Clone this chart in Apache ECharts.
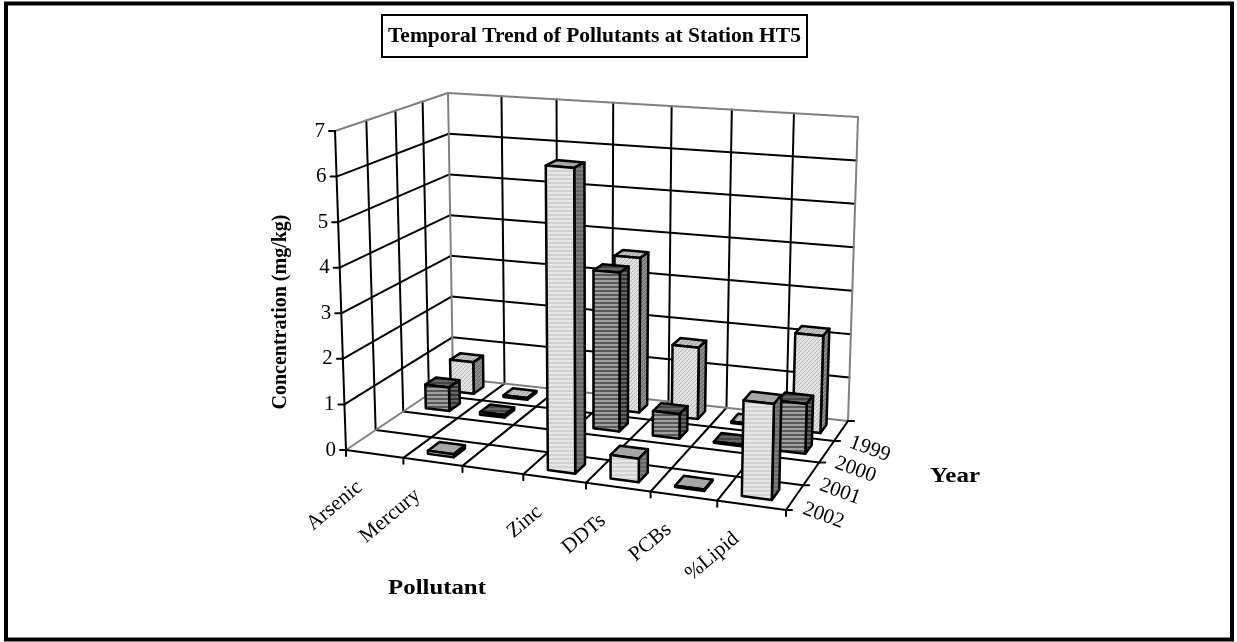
<!DOCTYPE html>
<html>
<head>
<meta charset="utf-8">
<style>
  html, body {margin: 0; padding: 0; background: #fff;}
  #main {width: 1237px; height: 642px;}
</style>
<script src="https://cdn.jsdelivr.net/npm/echarts@6/dist/echarts.min.js"></script>
</head>
<body>
<div id="main"></div>
<script>
  const pollutants = ['Arsenic', 'Mercury', '', 'Zinc', 'DDTs', 'PCBs', '%Lipid'];
  const years = ['2002', '2001', '2000', '1999'];
  const valueTicks = [0, 1, 2, 3, 4, 5, 6, 7];

  // null: no bar drawn
  const values1999 = [0.75, 0.04, null, 3.6, 1.65, 0.03, 2.2];
  const values2000 = [0.55, 0.06, null, 3.6, 0.55, 0.03, 1.1];
  const values2001 = [null, null, null, null, null, null, null];
  const values2002 = [null, 0.07, null, 6.55, 0.5, 0.03, 2.0];

  const serif = '"Liberation Serif", "Times New Roman", serif';

  // floor and ceiling corners of the plot box, used only for the projection
  const floorQuad = [[346, 450], [786, 510], [848, 421], [453, 378]];
  const topQuad = [[335, 131], [794, 170], [858, 117], [448, 93]];
  const xPersp = 0.9, zPersp = 1.15;

  function warp(t, w) {
    return t * w / (1 + t * (w - 1));
  }
  function quadAt(q, u, v) {
    const a = [q[0][0] + (q[1][0] - q[0][0]) * u, q[0][1] + (q[1][1] - q[0][1]) * u];
    const b = [q[3][0] + (q[2][0] - q[3][0]) * u, q[3][1] + (q[2][1] - q[3][1]) * u];
    return [a[0] + (b[0] - a[0]) * v, a[1] + (b[1] - a[1]) * v];
  }

  // x: pollutant slot, z: year slot (0 is the front), y: concentration
  function project(x, z, y) {
    const u = warp(x / pollutants.length, xPersp);
    const v = warp(z / years.length, zPersp);
    const a = quadAt(floorQuad, u, v);
    const b = quadAt(topQuad, u, v);
    const t = y / 7;
    return [a[0] + (b[0] - a[0]) * t, a[1] + (b[1] - a[1]) * t];
  }

  function makePattern(size, draw) {
    const c = document.createElement('canvas');
    c.width = size;
    c.height = size;
    draw(c.getContext('2d'));
    return {image: c, repeat: 'repeat'};
  }
  function stripes(base, line) {
    return makePattern(4, function (ctx) {
      ctx.fillStyle = base;
      ctx.fillRect(0, 0, 4, 4);
      ctx.fillStyle = line;
      ctx.fillRect(0, 2, 4, 2);
    });
  }
  function hatch(base, line) {
    return makePattern(4, function (ctx) {
      ctx.fillStyle = base;
      ctx.fillRect(0, 0, 4, 4);
      ctx.fillStyle = line;
      for (let i = 0; i < 4; i++) ctx.fillRect(i, 3 - i, 1, 1);
    });
  }

  const styles = {
    1999: {front: hatch('#e2e2e2', '#b8b8b8'), side: hatch('#8c8c8c', '#666'), top: hatch('#c4c4c4', '#a0a0a0')},
    2000: {front: stripes('#a0a0a0', '#585858'), side: stripes('#666', '#333'), top: stripes('#666', '#444')},
    2001: {front: '#ccc', side: '#777', top: '#aaa'},
    2002: {front: stripes('#e6e6e6', '#d2d2d2'), side: stripes('#7c7c7c', '#666'), top: '#a6a6a6'}
  };

  function poly(api, pts, fill, lineW) {
    return {
      type: 'polygon',
      shape: {points: pts.map(function (p) { return api.coord(p); })},
      style: {fill: fill, stroke: '#000', lineWidth: lineW, lineJoin: 'round'}
    };
  }

  function line(api, a, b, color, lineW) {
    const p = api.coord(a), q = api.coord(b);
    return {
      type: 'line',
      shape: {x1: p[0], y1: p[1], x2: q[0], y2: q[1]},
      style: {stroke: color, lineWidth: lineW, lineCap: 'round'}
    };
  }

  function text(api, pos, str, rotateDeg, font, align, vAlign, stretch) {
    const p = api.coord(pos);
    return {
      type: 'text',
      x: p[0],
      y: p[1],
      scaleX: stretch || 1,
      rotation: rotateDeg * Math.PI / 180,
      style: {text: str, font: font, fill: '#000', align: align, verticalAlign: vAlign}
    };
  }

  // walls, floor, ticks and tick labels
  function renderFrame(params, api) {
    const nx = pollutants.length, nz = years.length;
    const black = '#000', gray = '#808080';
    const kids = [];
    valueTicks.forEach(function (v) {
      if (v > 0 && v < 7) {
        kids.push(line(api, project(0, 0, v), project(0, nz, v), black, 2));
        kids.push(line(api, project(0, nz, v), project(nx, nz, v), black, 2));
      }
    });
    for (let i = 1; i < nz; i++) {
      kids.push(line(api, project(0, i, 0), project(0, i, 7), black, 2));
      kids.push(line(api, project(0, i, 0), project(nx, i, 0), black, 2));
    }
    for (let i = 1; i < nx; i++) {
      kids.push(line(api, project(i, nz, 0), project(i, nz, 7), black, 2));
      kids.push(line(api, project(i, 0, 0), project(i, nz, 0), black, 2));
    }
    kids.push(line(api, project(0, 0, 7), project(0, nz, 7), gray, 2));
    kids.push(line(api, project(0, nz, 7), project(nx, nz, 7), gray, 2));
    kids.push(line(api, project(0, nz, 0), project(0, nz, 7), gray, 2));
    kids.push(line(api, project(nx, nz, 0), project(nx, nz, 7), gray, 2));
    kids.push(line(api, project(0, 0, 0), project(0, nz, 0), gray, 2));
    kids.push(line(api, project(0, nz, 0), project(nx, nz, 0), gray, 2));
    kids.push(line(api, project(0, 0, 0), project(0, 0, 7), black, 2));
    kids.push(line(api, project(0, 0, 0), project(nx, 0, 0), black, 2));
    kids.push(line(api, project(nx, 0, 0), project(nx, nz, 0), black, 2));

    valueTicks.forEach(function (v) {
      const p = project(0, 0, v);
      kids.push(line(api, p, [p[0] - 6, p[1]], black, 2));
      kids.push(text(api, [p[0] - 10, p[1]], String(v), 0, '21px ' + serif, 'right', 'middle'));
    });
    for (let i = 0; i <= nx; i++) {
      const p = project(i, 0, 0);
      kids.push(line(api, p, [p[0], p[1] + 6], black, 2));
    }
    for (let i = 0; i <= nz; i++) {
      const p = project(nx, i, 0);
      kids.push(line(api, p, [p[0] + 6, p[1]], black, 2));
    }
    pollutants.forEach(function (name, i) {
      const p = project(i + 0.5, 0, 0);
      kids.push(text(api, [p[0] - 15, p[1] + 31], name, 40, '21px ' + serif, 'right', 'middle'));
    });
    years.forEach(function (year, i) {
      const p = project(nx, i + 0.5, 0);
      kids.push(text(api, [p[0] + 9, p[1] + 11], year, -20, '21px ' + serif, 'left', 'middle'));
    });
    kids.push(text(api, [281, 312], 'Concentration (mg/kg)', 90, 'bold 20px ' + serif, 'center', 'middle'));
    kids.push(text(api, [955, 477], 'Year', 0, 'bold 20px ' + serif, 'center', 'middle', 1.25));
    kids.push(text(api, [437, 589], 'Pollutant', 0, 'bold 20px ' + serif, 'center', 'middle', 1.24));
    return {type: 'group', children: kids};
  }

  function barRenderer(yearKey, z) {
    const st = styles[yearKey];
    return function (params, api) {
      const x = api.value(0);
      const v = api.value(1);
      const x0 = x + 0.28, x1 = x + 0.72;
      const z0 = z + 0.29, z1 = z + 0.71;
      return {
        type: 'group',
        children: [
          poly(api, [project(x0, z0, v), project(x1, z0, v), project(x1, z1, v), project(x0, z1, v)], st.top, 2.5),
          poly(api, [project(x1, z0, 0), project(x1, z1, 0), project(x1, z1, v), project(x1, z0, v)], st.side, 2.5),
          poly(api, [project(x0, z0, 0), project(x1, z0, 0), project(x1, z0, v), project(x0, z0, v)], st.front, 2.5)
        ]
      };
    };
  }

  function barSeries(yearKey, z, vals) {
    const rows = [];
    vals.forEach(function (v, i) {
      if (v !== null) rows.push([i, v]);
    });
    return {type: 'custom', renderItem: barRenderer(yearKey, z), data: rows, clip: false, silent: true};
  }

  const myChart = echarts.init(document.getElementById('main'));
  myChart.setOption({
    animation: false,
    backgroundColor: '#fff',
    title: {
      text: 'Temporal Trend of Pollutants at Station HT5',
      left: 382,
      top: 15,
      padding: [10, 6, 10, 6],
      borderColor: '#000',
      borderWidth: 2,
      textStyle: {fontFamily: serif, fontWeight: 'bold', fontSize: 21.5, color: '#000'}
    },
    grid: {left: 0, right: 0, top: 0, bottom: 0},
    xAxis: {type: 'value', min: 0, max: 1237, show: false},
    yAxis: {type: 'value', min: 0, max: 642, inverse: true, show: false},
    graphic: [{
      type: 'rect',
      shape: {x: 6, y: 3.5, width: 1226, height: 636},
      style: {fill: 'none', stroke: '#000', lineWidth: 4}
    }],
    series: [
      {type: 'custom', renderItem: renderFrame, data: [[0, 0]], clip: false, silent: true},
      barSeries(1999, 3, values1999),
      barSeries(2000, 2, values2000),
      barSeries(2001, 1, values2001),
      barSeries(2002, 0, values2002)
    ]
  });
</script>
</body>
</html>
